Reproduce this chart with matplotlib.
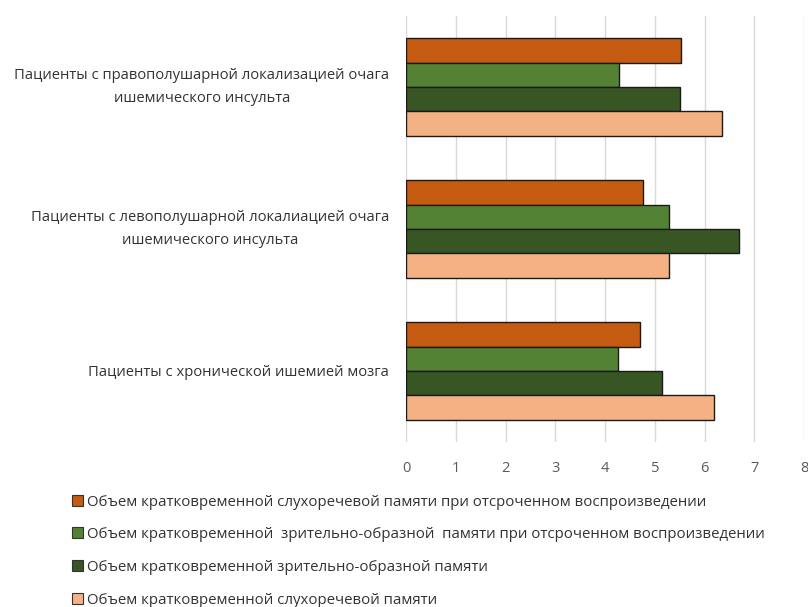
import matplotlib
matplotlib.use("Agg")
import matplotlib.pyplot as plt
import numpy as np
from matplotlib.patches import Patch

plt.rcParams['font.family'] = ['Open Sans', 'DejaVu Sans']

categories = [
    "Пациенты с правополушарной локализацией очага\nишемического инсульта",
    "Пациенты с левополушарной локалиацией очага\nишемического инсульта",
    "Пациенты с хронической ишемией мозга",
]
series_names = [
    "Объем кратковременной слухоречевой памяти при отсроченном воспроизведении",
    "Объем кратковременной  зрительно-образной  памяти при отсроченном воспроизведении",
    "Объем кратковременной зрительно-образной памяти",
    "Объем кратковременной слухоречевой памяти",
]
s_audio_delayed = [5.52, 4.76, 4.71]
s_visual_delayed = [4.29, 5.28, 4.27]
s_visual = [5.50, 6.70, 5.14]
s_audio = [6.36, 5.28, 6.19]
series_values = [s_audio_delayed, s_visual_delayed, s_visual, s_audio]
colors = ["#C55A11", "#548235", "#375623", "#F4B183"]
xticks = [0, 1, 2, 3, 4, 5, 6, 7, 8]

fig = plt.figure(figsize=(8.08, 6.07), dpi=100)
ax = fig.add_axes([406/808, 1-442/607, 398/808, 426/607])

n_cat = len(categories)
n_ser = len(series_values)
bar_h = 0.1725
y_centers = np.arange(n_cat)
for j, vals in enumerate(series_values):
    offs = (j - (n_ser - 1) / 2) * bar_h
    ax.barh(y_centers + offs, vals, height=bar_h, color=colors[j],
            edgecolor="#1a1a1a", linewidth=1.0, zorder=3)

ax.set_ylim(n_cat - 0.5, -0.5)
ax.set_xlim(0, 8)
ax.set_xticks(xticks)
ax.set_xticklabels([str(t) for t in xticks], fontsize=10.5, color="#595959")
ax.set_yticks(y_centers)
ax.set_yticklabels(categories, fontsize=10.65, color="#333333", ha="right",
                   va="center", multialignment="center", linespacing=1.7)
for lbl in ax.get_yticklabels():
    if "\n" not in lbl.get_text():
        lbl.set_va("center_baseline")
ax.tick_params(axis="y", length=0, pad=12)
ax.tick_params(axis="x", length=0, pad=14)
ax.grid(axis="x", color="#D9D9D9", linewidth=1.0, zorder=0)
for s in ax.spines.values():
    s.set_visible(False)

handles = [Patch(facecolor=c, edgecolor="#333333", linewidth=0.8) for c in colors]
leg = fig.legend(handles, series_names, loc="upper left",
                 bbox_to_anchor=(58/808, 1-481/607), frameon=False,
                 fontsize=10.8, handlelength=0.75, handleheight=0.75,
                 handletextpad=0.3, labelspacing=1.18, labelcolor="#333333")

fig.savefig("out.png", dpi=100)
